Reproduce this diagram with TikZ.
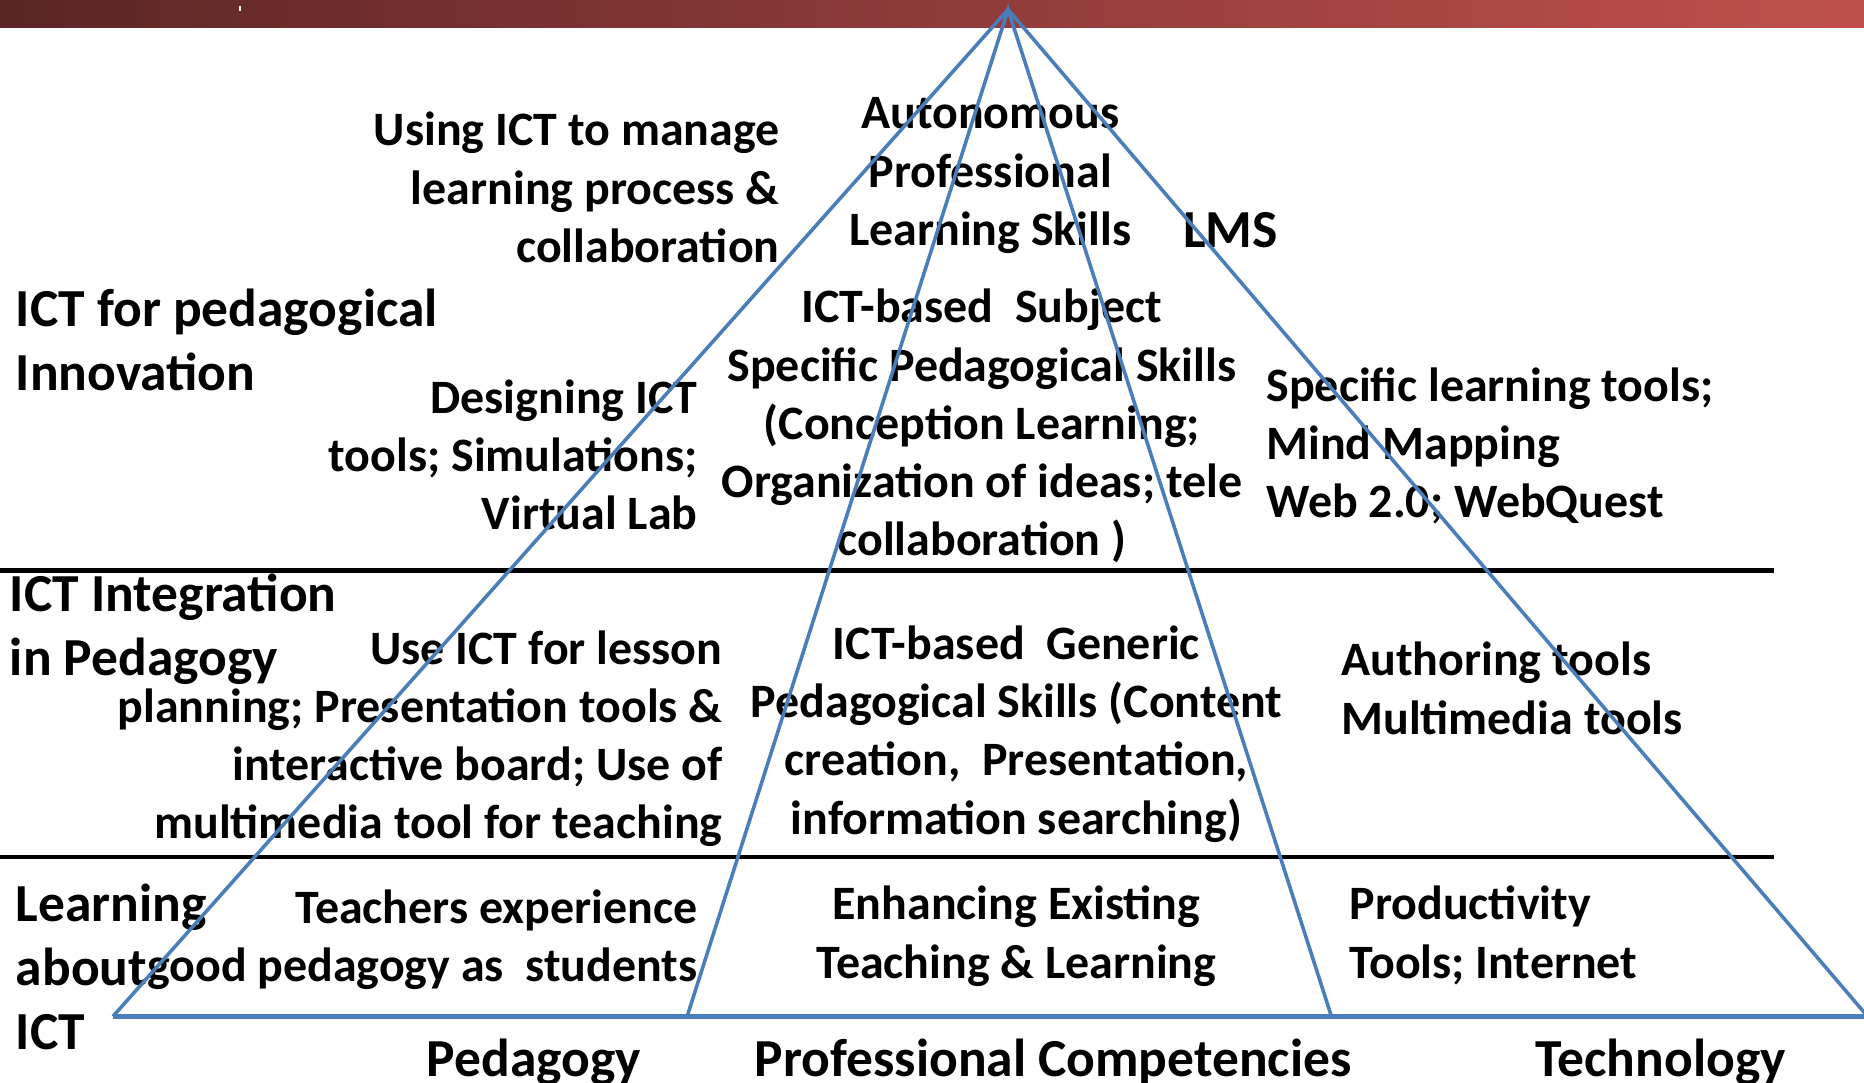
\documentclass[tikz,border=0pt]{standalone}
\usepackage{fontspec}
\setmainfont{Carlito}
\usepackage{xcolor}
\definecolor{pyrblue}{HTML}{4A7EBB}
\definecolor{bardark}{HTML}{5B2525}
\definecolor{barlight}{HTML}{C0504D}

\begin{document}
\begin{tikzpicture}[x=0.6pt,y=-0.6pt,
    small/.style={font=\fontsize{24.2pt}{29.4pt}\selectfont\bfseries,inner sep=0pt,execute at begin node=\strut},
    big/.style={font=\fontsize{27pt}{32.4pt}\selectfont\bfseries,inner sep=0pt,execute at begin node=\strut},
    pyr/.style={draw=pyrblue,line width=1.8pt},
    band/.style={draw=black,line width=2.2pt}]
        \clip (0,0) rectangle (1568,911);
        % Title bar
        \shade[left color=bardark,right color=barlight] (0,0) rectangle (1568,23);
        \draw[white,line width=0.8pt] (202,5) -- (202,9);
        % Level labels on the left
        \node[big,anchor=north west,align=left] (pedinno) at (13,243) {ICT for pedagogical\\Innovation};
        \node[big,anchor=north west,align=left] (ictint) at (8,482) {ICT Integration\\in Pedagogy};
        \node[big,anchor=north west,align=left] (learnict) at (13,743) {Learning\\about\\ICT};
        % Top level
        \node[small,anchor=north east,align=right] (manage) at (656,94) {Using ICT to manage\\learning process \&\\collaboration};
        \node[small,anchor=north,align=center] (auton) at (833,82) {Autonomous\\Professional\\Learning Skills};
        \node[big,anchor=north] (lms) at (1035,170) {LMS};
        \node[small,anchor=north,align=center] (subject) at (826,243) {ICT-based\ \ Subject\\Specific Pedagogical Skills\\(Conception Learning;\\Organization of ideas; tele\\collaboration )};
        \node[small,anchor=north east,align=right] (design) at (587,319) {Designing ICT\\tools; Simulations;\\Virtual Lab};
        \node[small,anchor=north west,align=left] (spectools) at (1065,309) {Specific learning tools;\\Mind Mapping\\Web 2.0; WebQuest};
        % Middle level
        \node[small,anchor=north east,align=right] (lesson) at (608,530) {Use ICT for lesson\\planning; Presentation tools \&\\interactive board; Use of\\multimedia tool for teaching};
        \node[small,anchor=north,align=center] (generic) at (855,526) {ICT-based\ \ Generic\\Pedagogical Skills (Content\\creation,\ \ Presentation,\\information searching)};
        \node[small,anchor=north west,align=left] (authoring) at (1128,540) {Authoring tools\\Multimedia tools};
        % Bottom level
        \node[small,anchor=north east,align=right] (teachers) at (587,748) {Teachers experience\\good pedagogy as\ \ students};
        \node[small,anchor=north,align=center] (enhance) at (855,745) {Enhancing Existing\\Teaching \& Learning};
        \node[small,anchor=north west,align=left] (product) at (1135,745) {Productivity\\Tools; Internet};
        % Axis labels
        \node[big,anchor=north] (pedlab) at (449,867) {Pedagogy};
        \node[big,anchor=north] (proflab) at (886,867) {Professional Competencies};
        \node[big,anchor=north] (techlab) at (1397,867) {Technology};
        % Level separators
        \draw[band] (0,480) -- (1492,480);
        \draw[band] (0,721) -- (1492,721);
        % Pyramid
        \coordinate (apex) at (848,8);
        \coordinate (lbase) at (95,855);
        \coordinate (ilbase) at (578,855);
        \coordinate (irbase) at (1120,855);
        \coordinate (rbase) at (1571,855);
        \draw[pyr] (lbase) -- (apex) -- (rbase);
        \draw[pyr] (ilbase) -- (apex) -- (irbase);
        \draw[pyr,line width=2.6pt] (lbase) -- (rbase);
    \end{tikzpicture}
\end{document}
